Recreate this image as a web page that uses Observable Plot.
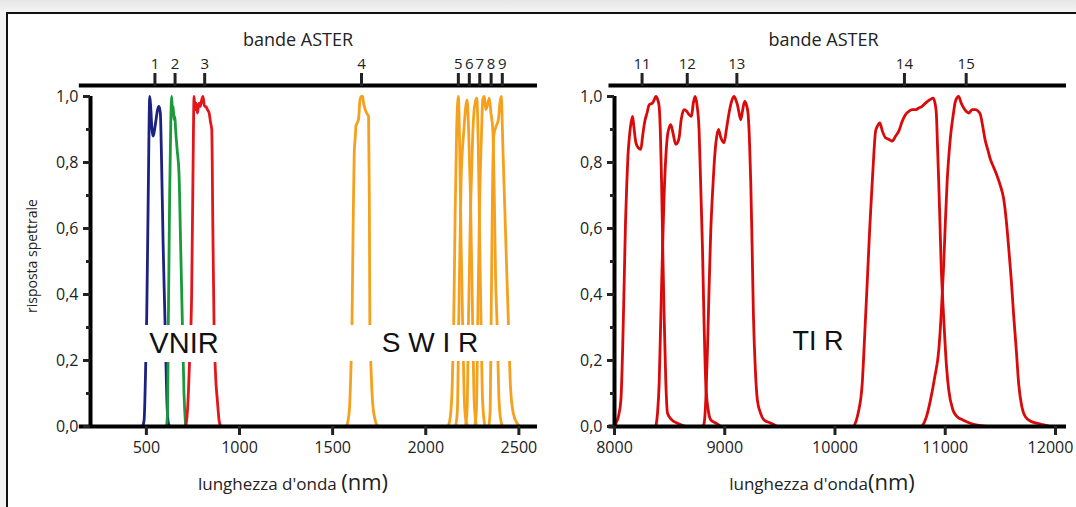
<!DOCTYPE html>
<html><head><meta charset="utf-8">
<script src="https://cdn.jsdelivr.net/npm/d3@7"></script>
<script src="https://cdn.jsdelivr.net/npm/@observablehq/plot@0.6"></script>
<style>
body{margin:0;background:#fff;width:1076px;height:507px;overflow:hidden;position:relative;font-family:"Open Sans",sans-serif;color:#222;}
.abs{position:absolute;}
.xlab{position:absolute;top:466px;transform:translateX(-50%);white-space:nowrap;font-size:17px;color:#222;}
.xlab span{font-size:22px;}
.region{position:absolute;background:#fff;font-family:"Liberation Sans",Arial,sans-serif;color:#111;display:flex;align-items:center;justify-content:center;white-space:pre;}
</style></head><body>
<div class="abs" style="left:0;top:0;width:1076px;height:12px;background:linear-gradient(#e6e6e6,#f4f4f4);"></div>
<div class="abs" style="left:0;top:12px;width:7px;height:495px;background:#f3f3f3;"></div>
<div id="left" class="abs" style="left:0;top:0"></div>
<div id="right" class="abs" style="left:540px;top:0"></div>
<div class="abs" style="left:7px;top:12px;width:1069px;height:2px;background:#111;"></div>
<div class="abs" style="left:6px;top:12px;width:2px;height:495px;background:#111;"></div>
<div class="xlab" style="left:293px">lunghezza d'onda <span>(nm)</span></div>
<div class="xlab" style="left:822px">lunghezza d'onda<span>(nm)</span></div>
<div class="region" style="left:140px;top:325px;width:88px;height:37px;font-size:29px;">VNIR</div>
<div class="region" style="left:344px;top:325px;width:172px;height:36px;font-size:28px;">S W I R</div>
<div class="region" style="left:788px;top:324px;width:60px;height:34px;font-size:27px;">TI R</div>
<script>
// ---- VNIR / SWIR band response curves: [wavelength nm, relative response]
const band1 = [[480,0],[488,0.02],[495,0.15],[502,0.34],[510,0.7],[518,1.0],[523,0.97],[530,0.9],[537,0.88],[544,0.9],[552,0.93],[560,0.96],[568,0.97],[575,0.95],[580,0.85],[590,0.55],[600,0.32],[610,0.08],[618,0.01],[625,0]];
const band2 = [[608,0],[614,0.05],[618,0.32],[625,0.7],[631,0.92],[636,1.0],[640,0.95],[644,0.97],[648,0.93],[653,0.94],[657,0.9],[665,0.84],[675,0.77],[684,0.55],[693,0.32],[702,0.1],[711,0]];
const band3 = [[712,0],[722,0.06],[732,0.2],[743,0.4],[750,0.75],[756,1.0],[762,0.96],[768,0.98],[774,0.95],[783,0.98],[790,0.97],[797,0.99],[804,1.0],[812,0.97],[819,0.97],[828,0.96],[837,0.95],[845,0.92],[851,0.9],[857,0.6],[863,0.32],[872,0.15],[881,0.08],[890,0.02],[899,0]];
const band4 = [[1575,0],[1590,0.05],[1597,0.15],[1604,0.31],[1610,0.6],[1616,0.83],[1622,0.88],[1625,0.91],[1632,0.92],[1639,0.93],[1647,0.99],[1655,1.0],[1661,1.0],[1666,0.98],[1670,0.97],[1682,0.95],[1693,0.94],[1697,0.7],[1700,0.31],[1708,0.15],[1715,0.07],[1728,0.02],[1741,0]];
const band5 = [[2120,0],[2132,0.03],[2142,0.12],[2150,0.31],[2158,0.65],[2166,0.9],[2175,1.0],[2182,0.85],[2190,0.55],[2198,0.31],[2206,0.1],[2215,0.02],[2228,0]];
const band6 = [[2160,0],[2170,0.05],[2177,0.31],[2190,0.75],[2205,0.9],[2215,0.97],[2222,0.99],[2230,0.9],[2240,0.7],[2252,0.31],[2260,0.08],[2272,0]];
const band7 = [[2212,0],[2222,0.05],[2229,0.31],[2240,0.65],[2252,0.88],[2262,0.97],[2274,0.995],[2282,0.85],[2290,0.55],[2297,0.31],[2305,0.08],[2318,0]];
const band8 = [[2262,0],[2272,0.05],[2279,0.31],[2290,0.7],[2300,0.9],[2306,0.99],[2315,1.0],[2322,0.96],[2330,0.97],[2341,0.995],[2350,0.95],[2360,0.9],[2368,0.7],[2375,0.45],[2383,0.31],[2392,0.1],[2400,0.03],[2412,0]];
const band9 = [[2338,0],[2346,0.05],[2351,0.31],[2358,0.7],[2365,0.88],[2372,0.9],[2378,0.91],[2390,0.93],[2398,0.98],[2405,1.0],[2415,0.83],[2425,0.65],[2436,0.45],[2444,0.31],[2455,0.12],[2470,0.04],[2490,0.01],[2505,0]];
// ---- TIR band response curves
const band11 = [[8000,0],[8013,0.01],[8035,0.03],[8058,0.08],[8075,0.25],[8088,0.44],[8100,0.62],[8112,0.74],[8122,0.82],[8133,0.87],[8150,0.92],[8164,0.94],[8175,0.91],[8194,0.86],[8215,0.845],[8239,0.84],[8255,0.88],[8275,0.925],[8295,0.95],[8315,0.975],[8345,0.98],[8360,0.99],[8375,1.0],[8392,0.99],[8405,0.97],[8417,0.88],[8427,0.74],[8440,0.5],[8450,0.34],[8465,0.14],[8481,0.04],[8520,0.02],[8571,0.01],[8647,0]];
const band12 = [[8375,0],[8390,0.04],[8405,0.13],[8420,0.33],[8436,0.54],[8450,0.7],[8466,0.82],[8480,0.88],[8495,0.905],[8511,0.915],[8530,0.89],[8556,0.855],[8572,0.86],[8586,0.875],[8605,0.93],[8631,0.96],[8655,0.955],[8677,0.945],[8698,0.94],[8715,0.98],[8731,1.0],[8750,0.97],[8767,0.9],[8782,0.73],[8798,0.54],[8812,0.32],[8828,0.13],[8850,0.05],[8873,0.02],[8920,0.01],[8964,0]];
const band13 = [[8800,0],[8813,0.01],[8828,0.08],[8843,0.23],[8858,0.42],[8873,0.59],[8888,0.7],[8903,0.79],[8920,0.86],[8943,0.9],[8965,0.875],[8994,0.86],[9015,0.9],[9039,0.95],[9062,0.985],[9085,1.0],[9100,0.99],[9115,0.975],[9130,0.95],[9145,0.93],[9163,0.96],[9181,0.985],[9196,0.975],[9211,0.95],[9225,0.86],[9236,0.74],[9248,0.55],[9260,0.34],[9278,0.17],[9296,0.08],[9325,0.04],[9356,0.02],[9420,0.01],[9477,0]];
const band14 = [[10172,0],[10210,0.04],[10247,0.13],[10270,0.28],[10293,0.44],[10315,0.6],[10338,0.74],[10355,0.84],[10368,0.895],[10385,0.91],[10407,0.92],[10430,0.895],[10458,0.875],[10490,0.87],[10519,0.865],[10550,0.88],[10579,0.895],[10610,0.925],[10639,0.945],[10670,0.955],[10700,0.96],[10730,0.96],[10760,0.965],[10790,0.97],[10821,0.98],[10860,0.99],[10891,0.995],[10910,0.975],[10920,0.945],[10930,0.85],[10941,0.74],[10952,0.62],[10963,0.49],[10978,0.38],[10993,0.285],[11012,0.18],[11032,0.11],[11070,0.05],[11108,0.03],[11160,0.02],[11228,0.01],[11380,0]];
const band15 = [[10791,0],[10830,0.03],[10866,0.08],[10905,0.15],[10941,0.23],[10965,0.35],[10986,0.49],[11000,0.61],[11017,0.74],[11035,0.83],[11053,0.895],[11075,0.95],[11092,0.985],[11122,1.0],[11145,0.98],[11168,0.965],[11190,0.955],[11213,0.95],[11245,0.96],[11274,0.96],[11300,0.955],[11319,0.945],[11340,0.91],[11364,0.865],[11385,0.84],[11409,0.81],[11440,0.785],[11470,0.76],[11500,0.73],[11530,0.69],[11555,0.62],[11576,0.54],[11600,0.44],[11621,0.335],[11645,0.23],[11666,0.13],[11695,0.06],[11726,0.03],[11780,0.015],[11832,0.01],[11953,0]];

// ---- band groups and tick labels
const vnirSwirBands = ["1","2","3","4","5","6","7","8","9"];
const tirBands = ["11","12","13","14","15"];
const vnirSwirCenters = [546, 654, 813, 1655, 2175, 2234, 2290, 2351, 2411];
const tirCenters = [8250, 8660, 9110, 10630, 11190];
const leftTicks = [500, 1000, 1500, 2000, 2500];
const rightTicks = [8000, 9000, 10000, 11000, 12000];
const yMajor = [0, 0.2, 0.4, 0.6, 0.8, 1.0];
const yMinor = [0.1, 0.3, 0.5, 0.7, 0.9];
const titleTop = "bande ASTER";
const yTitle = "risposta spettrale";

// styles (kept apart from data)
const palette = {"1":"#1c2280","2":"#1b9a3a","3":"#e3161b","4":"#f5a11e","5":"#f5a11e","6":"#f5a11e","7":"#f5a11e","8":"#f5a11e","9":"#f5a11e",
  "11":"#d90a0a","12":"#d90a0a","13":"#d90a0a","14":"#d90a0a","15":"#d90a0a"};
const curves = {"1":band1,"2":band2,"3":band3,"4":band4,"5":band5,"6":band6,"7":band7,"8":band8,"9":band9,
  "11":band11,"12":band12,"13":band13,"14":band14,"15":band15};

const yTop = 1.0333;
const fmt = d => d.toFixed(1).replace(".", ",");
const toRows = b => curves[b].map(([nm, r]) => ({band: b, nm, r}));

function panel({bands, centers, ticks, domain, width, marginLeft, marginRight, showYTitle, titleDx, axisOverhang, lastTickShift}) {
  const labelOf = new Map(centers.map((c, i) => [c, bands[i]]));
  const xMin = domain[0];
  const marks = [];
  for (const b of bands) {
    marks.push(Plot.line(toRows(b), {x: "nm", y: "r", stroke: palette[b], strokeWidth: 2.8, curve: "monotone-x"}));
  }
  const inner = lastTickShift ? ticks.slice(0, -1) : ticks;
  marks.push(
    Plot.ruleY([0], {x1: xMin - axisOverhang, x2: domain[1], stroke: "#000", strokeWidth: 4}),
    Plot.ruleY([yTop], {x1: xMin - axisOverhang, x2: domain[1], stroke: "#000", strokeWidth: 4}),
    Plot.ruleX([xMin], {y1: 0, y2: 1, stroke: "#000", strokeWidth: 4}),
    Plot.axisY({ticks: yMajor, tickFormat: fmt, tickSize: 7, tickPadding: 5, strokeWidth: 3, fontSize: 16, label: null}),
    Plot.axisY({ticks: yMinor, tickFormat: () => "", tickSize: 4, strokeWidth: 3, label: null}),
    Plot.axisX({ticks: inner, tickFormat: d => String(d), tickSize: 9, tickPadding: 6, strokeWidth: 3, fontSize: 16, label: null}),
    Plot.axisX({anchor: "top", ticks: centers, tickFormat: d => labelOf.get(d), tickSize: 13, tickPadding: 4, strokeWidth: 3, fontSize: 15, label: null}),
    Plot.text([titleTop], {frameAnchor: "top", dy: -52, dx: titleDx, fontSize: 18, fill: "#222"})
  );
  if (lastTickShift) {
    const last = ticks.slice(-1);
    marks.push(
      Plot.axisX({ticks: last, tickFormat: null, text: null, tickSize: 9, strokeWidth: 3, label: null}),
      Plot.axisX({ticks: last, tickFormat: d => String(d), tickSize: 0, tickPadding: 15, dx: -lastTickShift, fontSize: 16, label: null})
    );
  }
  if (showYTitle) marks.push(Plot.text([yTitle], {frameAnchor: "left", textAnchor: "middle", dx: -58, rotate: -90, fontSize: 14, fill: "#222"}));
  return Plot.plot({
    width, height: 507,
    marginLeft, marginRight, marginTop: 85, marginBottom: 81,
    x: {domain},
    y: {domain: [0, yTop]},
    style: {fontFamily: "Open Sans, sans-serif", color: "#222", background: "transparent", overflow: "visible"},
    marks
  });
}

document.getElementById("left").append(panel({
  bands: vnirSwirBands, centers: vnirSwirCenters, ticks: leftTicks, domain: [200, 2600],
  width: 540, marginLeft: 90, marginRight: 3, showYTitle: true, titleDx: -16, axisOverhang: 60, lastTickShift: 0
}));
document.getElementById("right").append(panel({
  bands: tirBands, centers: tirCenters, ticks: rightTicks, domain: [8000, 12100],
  width: 536, marginLeft: 74, marginRight: 10, showYTitle: false, titleDx: -17, axisOverhang: 50, lastTickShift: 5
}));
</script>
</body></html>
